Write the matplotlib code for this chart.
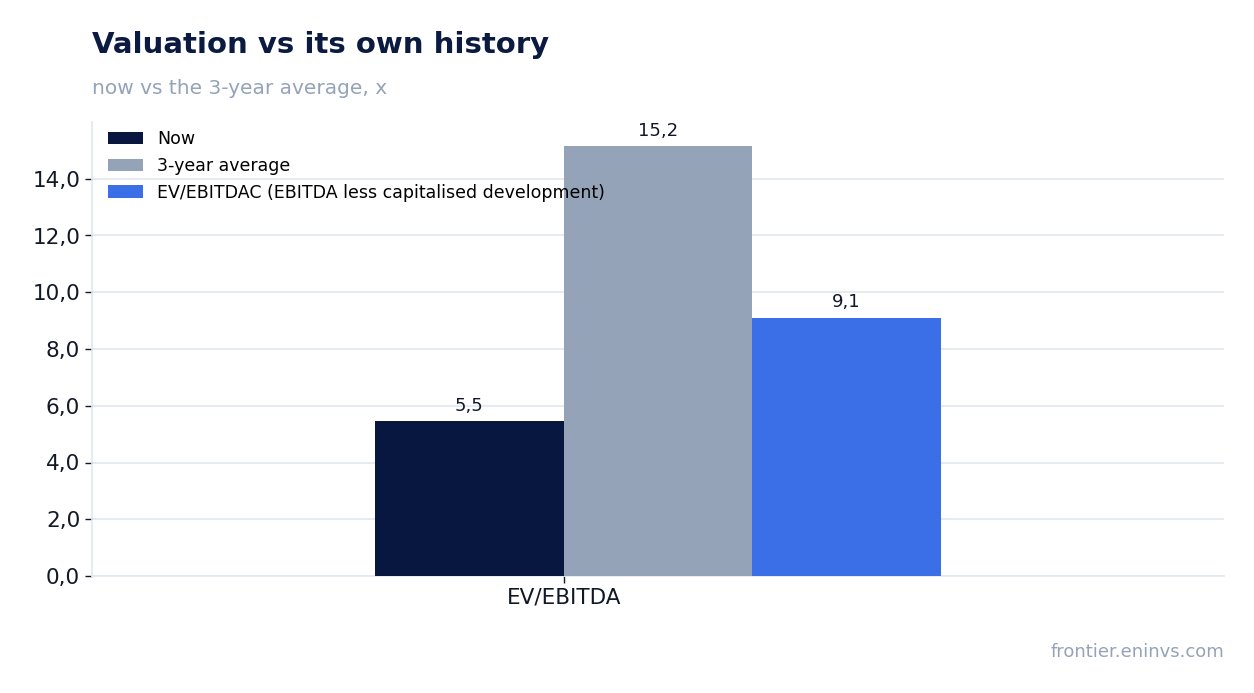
import matplotlib.pyplot as plt
import numpy as np

categories = ["EV/EBITDA"]
series_names = ["Now", "3-year average", "EV/EBITDAC (EBITDA less capitalised development)"]
now_vals = [5.46]
avg_vals = [15.16]
ebitdac_vals = [9.11]

colors = ["#071740", "#94A3B8", "#3B6FE8"]
navy = "#0A1A40"
grey = "#94A3B8"
tick_col = "#111827"

fig = plt.figure(figsize=(12.54, 6.93), dpi=100)
ax = fig.add_axes([92 / 1254, 1 - 576 / 693, 1132 / 1254, 454 / 693])

x = np.arange(len(categories))
w = 0.2
all_vals = [now_vals, avg_vals, ebitdac_vals]
for i, (name, vals) in enumerate(zip(series_names, all_vals)):
    bars = ax.bar(x - w + i * w, vals, width=w, align="edge", color=colors[i], label=name, zorder=3)
    for b, v in zip(bars, vals):
        ax.text(b.get_x() + b.get_width() / 2, v + 0.22, f"{v:.1f}".replace(".", ","),
                ha="center", va="bottom", fontsize=13, color=tick_col)

ax.set_xlim(-0.5, 0.7)
ax.set_ylim(0, 16)
ax.set_yticks(np.arange(0, 15, 2))
ax.set_yticklabels([f"{t:.1f}".replace(".", ",") for t in np.arange(0, 15, 2)])
ax.set_xticks(x)
ax.set_xticklabels(categories)
ax.tick_params(axis="both", labelsize=15.5, colors=tick_col, length=5, width=1)
ax.yaxis.grid(True, color="#E2E8F0", linewidth=1.2, zorder=0)
for s in ["top", "right"]:
    ax.spines[s].set_visible(False)
for s in ["left", "bottom"]:
    ax.spines[s].set_color("#E2E8F0")
    ax.spines[s].set_linewidth(1.2)

ax.legend(loc="upper left", frameon=False, fontsize=12.5, handlelength=2.0,
          handleheight=0.7, borderaxespad=0.3, labelspacing=0.5,
          bbox_to_anchor=(4 / 1132, 1 + 4 / 454))

fig.text(92 / 1254, 1 - 45 / 693, "Valuation vs its own history", fontsize=21, fontweight="bold",
         color=navy, va="center", ha="left")
fig.text(92 / 1254, 1 - 88 / 693, "now vs the 3-year average, x", fontsize=14.5,
         color=grey, va="center", ha="left")
fig.text(1224 / 1254, 1 - 652 / 693, "frontier.eninvs.com", fontsize=13,
         color=grey, va="center", ha="right")

fig.savefig("out.png", dpi=100)
